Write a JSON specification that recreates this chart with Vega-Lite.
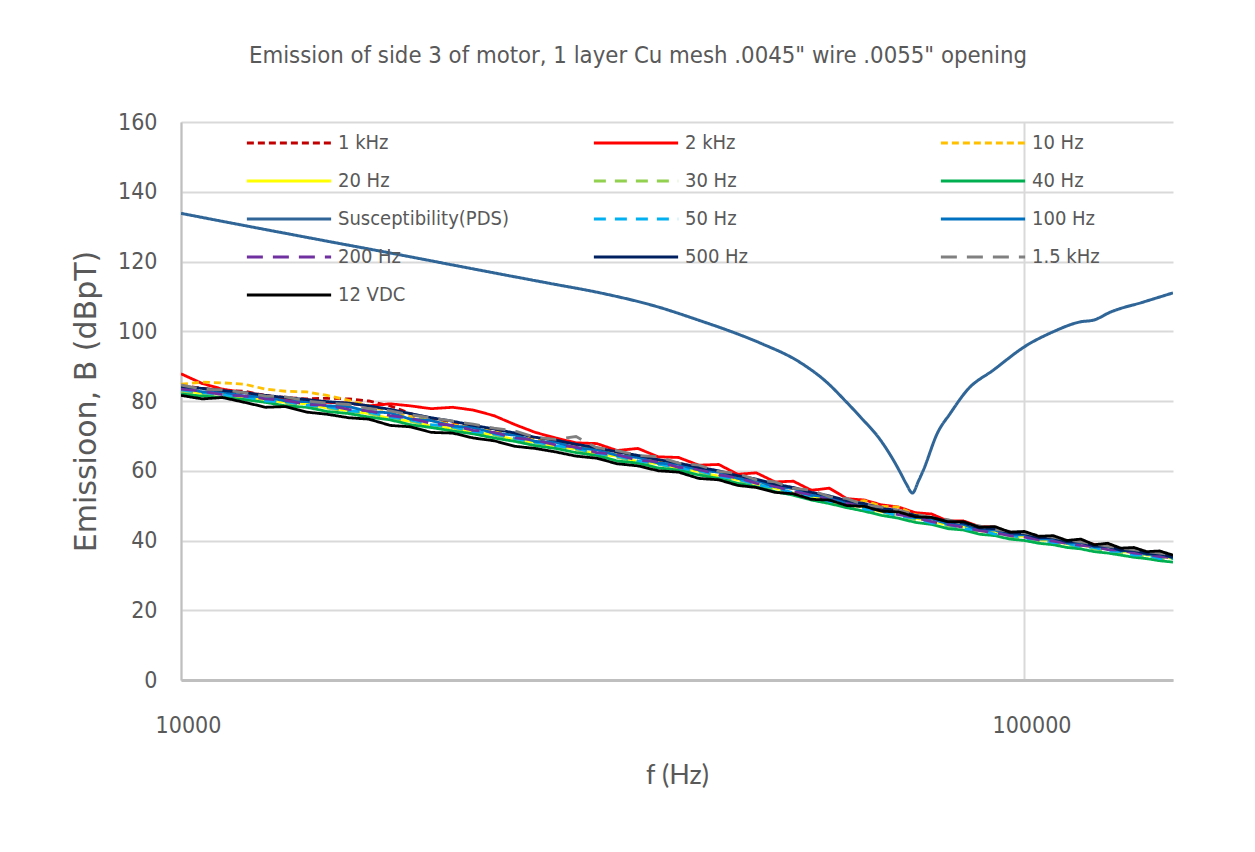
{
"$schema": "https://vega.github.io/schema/vega-lite/v6.json",
"autosize": "none",
"width": 992,
"height": 558,
"padding": {"left": 181, "top": 122, "right": 82, "bottom": 172},
"background": "white",
"config": {"view": {"stroke": null}},
"title": {"text": "Emission of side 3 of motor, 1 layer Cu mesh .0045\" wire .0055\" opening", "font": "Liberation Sans Narrow, DejaVu Sans Condensed, sans-serif", "fontSize": 23.7, "fontWeight": "normal", "color": "#595959", "anchor": "middle", "frame": "group", "offset": 43, "dx": -39},
"datasets": {
"emission": [
{"s":"1 kHz","f":10000,"B":84.5},{"s":"1 kHz","f":10600,"B":83.6},{"s":"1 kHz","f":11200,"B":83.0},{"s":"1 kHz","f":11900,"B":82.8},{"s":"1 kHz","f":12600,"B":81.5},{"s":"1 kHz","f":13300,"B":81.0},{"s":"1 kHz","f":14100,"B":80.6},{"s":"1 kHz","f":14900,"B":80.8},{"s":"1 kHz","f":15800,"B":80.6},{"s":"1 kHz","f":16700,"B":80.0},{"s":"1 kHz","f":17700,"B":78.6},{"s":"1 kHz","f":18700,"B":76.4},{"s":"1 kHz","f":19800,"B":74.8},{"s":"1 kHz","f":21000,"B":73.9},{"s":"1 kHz","f":22200,"B":72.4},{"s":"1 kHz","f":23500,"B":71.6},{"s":"1 kHz","f":24900,"B":70.3},{"s":"1 kHz","f":26300,"B":69.0},{"s":"1 kHz","f":27800,"B":68.4},{"s":"1 kHz","f":29400,"B":67.2},{"s":"1 kHz","f":31100,"B":66.3},{"s":"1 kHz","f":32900,"B":64.9},{"s":"1 kHz","f":34800,"B":64.0},{"s":"1 kHz","f":36800,"B":62.8},{"s":"1 kHz","f":38900,"B":61.9},{"s":"1 kHz","f":41100,"B":60.7},{"s":"1 kHz","f":43400,"B":59.7},{"s":"1 kHz","f":45700,"B":58.3},{"s":"1 kHz","f":48100,"B":57.3},{"s":"1 kHz","f":50600,"B":55.9},{"s":"1 kHz","f":53200,"B":54.9},{"s":"1 kHz","f":55900,"B":53.4},{"s":"1 kHz","f":58700,"B":52.5},{"s":"1 kHz","f":61600,"B":51.1},{"s":"1 kHz","f":64600,"B":50.3},{"s":"1 kHz","f":67700,"B":49.0},{"s":"1 kHz","f":70900,"B":48.3},{"s":"1 kHz","f":74200,"B":46.9},{"s":"1 kHz","f":77600,"B":46.4},{"s":"1 kHz","f":81100,"B":45.2},{"s":"1 kHz","f":84700,"B":44.6},{"s":"1 kHz","f":88400,"B":43.5},{"s":"1 kHz","f":92200,"B":43.1},{"s":"1 kHz","f":96100,"B":42.1},{"s":"1 kHz","f":100000,"B":41.8},{"s":"1 kHz","f":104000,"B":40.9},{"s":"1 kHz","f":108100,"B":40.6},{"s":"1 kHz","f":112300,"B":39.7},{"s":"1 kHz","f":116600,"B":39.4},{"s":"1 kHz","f":121000,"B":38.5},{"s":"1 kHz","f":125500,"B":38.3},{"s":"1 kHz","f":130100,"B":37.4},{"s":"1 kHz","f":134800,"B":37.2},{"s":"1 kHz","f":139600,"B":36.4},{"s":"1 kHz","f":144600,"B":36.1},{"s":"1 kHz","f":150000,"B":35.4},
{"s":"2 kHz","f":10000,"B":87.8},{"s":"2 kHz","f":10600,"B":85.0},{"s":"2 kHz","f":11200,"B":83.4},{"s":"2 kHz","f":11900,"B":82.4},{"s":"2 kHz","f":12600,"B":81.6},{"s":"2 kHz","f":13300,"B":80.6},{"s":"2 kHz","f":14100,"B":80.4},{"s":"2 kHz","f":14900,"B":79.6},{"s":"2 kHz","f":15800,"B":79.4},{"s":"2 kHz","f":16700,"B":78.6},{"s":"2 kHz","f":17700,"B":79.2},{"s":"2 kHz","f":18700,"B":78.6},{"s":"2 kHz","f":19800,"B":77.8},{"s":"2 kHz","f":21000,"B":78.2},{"s":"2 kHz","f":22200,"B":77.4},{"s":"2 kHz","f":23500,"B":75.8},{"s":"2 kHz","f":24900,"B":73.2},{"s":"2 kHz","f":26300,"B":71.0},{"s":"2 kHz","f":27800,"B":69.4},{"s":"2 kHz","f":29400,"B":68.0},{"s":"2 kHz","f":31100,"B":67.8},{"s":"2 kHz","f":32900,"B":65.8},{"s":"2 kHz","f":34800,"B":66.4},{"s":"2 kHz","f":36800,"B":64.0},{"s":"2 kHz","f":38900,"B":63.8},{"s":"2 kHz","f":41100,"B":61.6},{"s":"2 kHz","f":43400,"B":61.8},{"s":"2 kHz","f":45700,"B":59.0},{"s":"2 kHz","f":48100,"B":59.4},{"s":"2 kHz","f":50600,"B":56.8},{"s":"2 kHz","f":53200,"B":57.0},{"s":"2 kHz","f":55900,"B":54.4},{"s":"2 kHz","f":58700,"B":55.0},{"s":"2 kHz","f":61600,"B":52.0},{"s":"2 kHz","f":64600,"B":51.6},{"s":"2 kHz","f":67700,"B":50.2},{"s":"2 kHz","f":70900,"B":49.6},{"s":"2 kHz","f":74200,"B":48.0},{"s":"2 kHz","f":77600,"B":47.6},{"s":"2 kHz","f":81100,"B":45.6},{"s":"2 kHz","f":84700,"B":45.6},{"s":"2 kHz","f":88400,"B":44.0},{"s":"2 kHz","f":92200,"B":43.8},{"s":"2 kHz","f":96100,"B":42.2},{"s":"2 kHz","f":100000,"B":42.4},{"s":"2 kHz","f":104000,"B":41.0},{"s":"2 kHz","f":108100,"B":41.2},{"s":"2 kHz","f":112300,"B":39.8},{"s":"2 kHz","f":116600,"B":40.0},{"s":"2 kHz","f":121000,"B":38.8},{"s":"2 kHz","f":125500,"B":38.8},{"s":"2 kHz","f":130100,"B":37.6},{"s":"2 kHz","f":134800,"B":37.6},{"s":"2 kHz","f":139600,"B":36.6},{"s":"2 kHz","f":144600,"B":36.6},{"s":"2 kHz","f":150000,"B":35.6},
{"s":"10 Hz","f":10000,"B":84.8},{"s":"10 Hz","f":10600,"B":85.4},{"s":"10 Hz","f":11200,"B":85.2},{"s":"10 Hz","f":11900,"B":84.8},{"s":"10 Hz","f":12600,"B":83.4},{"s":"10 Hz","f":13300,"B":82.8},{"s":"10 Hz","f":14100,"B":82.6},{"s":"10 Hz","f":14900,"B":81.6},{"s":"10 Hz","f":15800,"B":80.2},{"s":"10 Hz","f":16700,"B":78.6},{"s":"10 Hz","f":17700,"B":77.0},{"s":"10 Hz","f":18700,"B":75.6},{"s":"10 Hz","f":19800,"B":74.4},{"s":"10 Hz","f":21000,"B":73.2},{"s":"10 Hz","f":22200,"B":72.4},{"s":"10 Hz","f":23500,"B":71.2},{"s":"10 Hz","f":24900,"B":70.2},{"s":"10 Hz","f":26300,"B":68.8},{"s":"10 Hz","f":27800,"B":68.2},{"s":"10 Hz","f":29400,"B":66.8},{"s":"10 Hz","f":31100,"B":66.2},{"s":"10 Hz","f":32900,"B":64.6},{"s":"10 Hz","f":34800,"B":64.0},{"s":"10 Hz","f":36800,"B":62.4},{"s":"10 Hz","f":38900,"B":62.0},{"s":"10 Hz","f":41100,"B":60.4},{"s":"10 Hz","f":43400,"B":59.6},{"s":"10 Hz","f":45700,"B":58.0},{"s":"10 Hz","f":48100,"B":57.2},{"s":"10 Hz","f":50600,"B":55.4},{"s":"10 Hz","f":53200,"B":55.0},{"s":"10 Hz","f":55900,"B":53.2},{"s":"10 Hz","f":58700,"B":52.4},{"s":"10 Hz","f":61600,"B":51.0},{"s":"10 Hz","f":64600,"B":51.4},{"s":"10 Hz","f":67700,"B":49.8},{"s":"10 Hz","f":70900,"B":49.6},{"s":"10 Hz","f":74200,"B":47.4},{"s":"10 Hz","f":77600,"B":46.6},{"s":"10 Hz","f":81100,"B":45.0},{"s":"10 Hz","f":84700,"B":44.8},{"s":"10 Hz","f":88400,"B":43.4},{"s":"10 Hz","f":92200,"B":43.0},{"s":"10 Hz","f":96100,"B":41.8},{"s":"10 Hz","f":100000,"B":41.6},{"s":"10 Hz","f":104000,"B":40.6},{"s":"10 Hz","f":108100,"B":40.8},{"s":"10 Hz","f":112300,"B":39.4},{"s":"10 Hz","f":116600,"B":39.8},{"s":"10 Hz","f":121000,"B":38.2},{"s":"10 Hz","f":125500,"B":38.6},{"s":"10 Hz","f":130100,"B":37.2},{"s":"10 Hz","f":134800,"B":37.4},{"s":"10 Hz","f":139600,"B":36.2},{"s":"10 Hz","f":144600,"B":36.4},{"s":"10 Hz","f":150000,"B":35.0},
{"s":"20 Hz","f":10000,"B":83.0},{"s":"20 Hz","f":10600,"B":82.2},{"s":"20 Hz","f":11200,"B":82.0},{"s":"20 Hz","f":11900,"B":81.0},{"s":"20 Hz","f":12600,"B":80.4},{"s":"20 Hz","f":13300,"B":79.6},{"s":"20 Hz","f":14100,"B":79.2},{"s":"20 Hz","f":14900,"B":78.0},{"s":"20 Hz","f":15800,"B":77.2},{"s":"20 Hz","f":16700,"B":76.4},{"s":"20 Hz","f":17700,"B":75.0},{"s":"20 Hz","f":18700,"B":74.2},{"s":"20 Hz","f":19800,"B":72.8},{"s":"20 Hz","f":21000,"B":72.2},{"s":"20 Hz","f":22200,"B":71.0},{"s":"20 Hz","f":23500,"B":70.4},{"s":"20 Hz","f":24900,"B":68.8},{"s":"20 Hz","f":26300,"B":68.2},{"s":"20 Hz","f":27800,"B":67.0},{"s":"20 Hz","f":29400,"B":66.2},{"s":"20 Hz","f":31100,"B":64.8},{"s":"20 Hz","f":32900,"B":64.2},{"s":"20 Hz","f":34800,"B":62.6},{"s":"20 Hz","f":36800,"B":62.0},{"s":"20 Hz","f":38900,"B":60.6},{"s":"20 Hz","f":41100,"B":59.8},{"s":"20 Hz","f":43400,"B":58.4},{"s":"20 Hz","f":45700,"B":57.4},{"s":"20 Hz","f":48100,"B":56.2},{"s":"20 Hz","f":50600,"B":55.0},{"s":"20 Hz","f":53200,"B":53.6},{"s":"20 Hz","f":55900,"B":52.8},{"s":"20 Hz","f":58700,"B":51.4},{"s":"20 Hz","f":61600,"B":50.2},{"s":"20 Hz","f":64600,"B":49.6},{"s":"20 Hz","f":67700,"B":48.2},{"s":"20 Hz","f":70900,"B":48.4},{"s":"20 Hz","f":74200,"B":46.4},{"s":"20 Hz","f":77600,"B":45.6},{"s":"20 Hz","f":81100,"B":44.4},{"s":"20 Hz","f":84700,"B":44.0},{"s":"20 Hz","f":88400,"B":42.8},{"s":"20 Hz","f":92200,"B":42.4},{"s":"20 Hz","f":96100,"B":41.4},{"s":"20 Hz","f":100000,"B":41.2},{"s":"20 Hz","f":104000,"B":40.2},{"s":"20 Hz","f":108100,"B":40.0},{"s":"20 Hz","f":112300,"B":39.0},{"s":"20 Hz","f":116600,"B":38.8},{"s":"20 Hz","f":121000,"B":37.8},{"s":"20 Hz","f":125500,"B":37.8},{"s":"20 Hz","f":130100,"B":36.8},{"s":"20 Hz","f":134800,"B":36.6},{"s":"20 Hz","f":139600,"B":35.8},{"s":"20 Hz","f":144600,"B":35.6},{"s":"20 Hz","f":150000,"B":34.8},
{"s":"30 Hz","f":10000,"B":82.6},{"s":"30 Hz","f":10600,"B":82.0},{"s":"30 Hz","f":11200,"B":81.6},{"s":"30 Hz","f":11900,"B":80.8},{"s":"30 Hz","f":12600,"B":80.2},{"s":"30 Hz","f":13300,"B":79.4},{"s":"30 Hz","f":14100,"B":78.6},{"s":"30 Hz","f":14900,"B":78.0},{"s":"30 Hz","f":15800,"B":77.0},{"s":"30 Hz","f":16700,"B":76.4},{"s":"30 Hz","f":17700,"B":75.2},{"s":"30 Hz","f":18700,"B":74.2},{"s":"30 Hz","f":19800,"B":73.0},{"s":"30 Hz","f":21000,"B":72.4},{"s":"30 Hz","f":22200,"B":71.2},{"s":"30 Hz","f":23500,"B":70.2},{"s":"30 Hz","f":24900,"B":69.0},{"s":"30 Hz","f":26300,"B":68.0},{"s":"30 Hz","f":27800,"B":67.0},{"s":"30 Hz","f":29400,"B":66.0},{"s":"30 Hz","f":31100,"B":64.8},{"s":"30 Hz","f":32900,"B":63.8},{"s":"30 Hz","f":34800,"B":62.6},{"s":"30 Hz","f":36800,"B":61.8},{"s":"30 Hz","f":38900,"B":60.6},{"s":"30 Hz","f":41100,"B":59.6},{"s":"30 Hz","f":43400,"B":58.2},{"s":"30 Hz","f":45700,"B":57.2},{"s":"30 Hz","f":48100,"B":55.8},{"s":"30 Hz","f":50600,"B":54.8},{"s":"30 Hz","f":53200,"B":53.4},{"s":"30 Hz","f":55900,"B":52.4},{"s":"30 Hz","f":58700,"B":51.0},{"s":"30 Hz","f":61600,"B":50.4},{"s":"30 Hz","f":64600,"B":48.8},{"s":"30 Hz","f":67700,"B":48.0},{"s":"30 Hz","f":70900,"B":47.2},{"s":"30 Hz","f":74200,"B":46.0},{"s":"30 Hz","f":77600,"B":44.8},{"s":"30 Hz","f":81100,"B":44.2},{"s":"30 Hz","f":84700,"B":43.2},{"s":"30 Hz","f":88400,"B":42.6},{"s":"30 Hz","f":92200,"B":41.6},{"s":"30 Hz","f":96100,"B":41.2},{"s":"30 Hz","f":100000,"B":40.4},{"s":"30 Hz","f":104000,"B":40.0},{"s":"30 Hz","f":108100,"B":39.2},{"s":"30 Hz","f":112300,"B":38.8},{"s":"30 Hz","f":116600,"B":38.0},{"s":"30 Hz","f":121000,"B":37.6},{"s":"30 Hz","f":125500,"B":37.0},{"s":"30 Hz","f":130100,"B":36.4},{"s":"30 Hz","f":134800,"B":35.8},{"s":"30 Hz","f":139600,"B":35.4},{"s":"30 Hz","f":144600,"B":34.8},{"s":"30 Hz","f":150000,"B":34.4},
{"s":"40 Hz","f":10000,"B":82.0},{"s":"40 Hz","f":10600,"B":81.4},{"s":"40 Hz","f":11200,"B":81.0},{"s":"40 Hz","f":11900,"B":80.4},{"s":"40 Hz","f":12600,"B":79.6},{"s":"40 Hz","f":13300,"B":78.6},{"s":"40 Hz","f":14100,"B":78.2},{"s":"40 Hz","f":14900,"B":77.0},{"s":"40 Hz","f":15800,"B":76.4},{"s":"40 Hz","f":16700,"B":75.4},{"s":"40 Hz","f":17700,"B":74.6},{"s":"40 Hz","f":18700,"B":73.2},{"s":"40 Hz","f":19800,"B":72.4},{"s":"40 Hz","f":21000,"B":71.4},{"s":"40 Hz","f":22200,"B":70.6},{"s":"40 Hz","f":23500,"B":69.4},{"s":"40 Hz","f":24900,"B":68.4},{"s":"40 Hz","f":26300,"B":67.2},{"s":"40 Hz","f":27800,"B":66.4},{"s":"40 Hz","f":29400,"B":65.2},{"s":"40 Hz","f":31100,"B":64.4},{"s":"40 Hz","f":32900,"B":62.8},{"s":"40 Hz","f":34800,"B":62.2},{"s":"40 Hz","f":36800,"B":60.8},{"s":"40 Hz","f":38900,"B":60.2},{"s":"40 Hz","f":41100,"B":58.8},{"s":"40 Hz","f":43400,"B":57.8},{"s":"40 Hz","f":45700,"B":56.4},{"s":"40 Hz","f":48100,"B":55.4},{"s":"40 Hz","f":50600,"B":54.0},{"s":"40 Hz","f":53200,"B":53.0},{"s":"40 Hz","f":55900,"B":51.6},{"s":"40 Hz","f":58700,"B":50.6},{"s":"40 Hz","f":61600,"B":49.4},{"s":"40 Hz","f":64600,"B":48.4},{"s":"40 Hz","f":67700,"B":47.2},{"s":"40 Hz","f":70900,"B":46.4},{"s":"40 Hz","f":74200,"B":45.2},{"s":"40 Hz","f":77600,"B":44.6},{"s":"40 Hz","f":81100,"B":43.4},{"s":"40 Hz","f":84700,"B":43.0},{"s":"40 Hz","f":88400,"B":41.8},{"s":"40 Hz","f":92200,"B":41.4},{"s":"40 Hz","f":96100,"B":40.4},{"s":"40 Hz","f":100000,"B":40.0},{"s":"40 Hz","f":104000,"B":39.2},{"s":"40 Hz","f":108100,"B":38.8},{"s":"40 Hz","f":112300,"B":38.0},{"s":"40 Hz","f":116600,"B":37.6},{"s":"40 Hz","f":121000,"B":36.8},{"s":"40 Hz","f":125500,"B":36.4},{"s":"40 Hz","f":130100,"B":35.8},{"s":"40 Hz","f":134800,"B":35.2},{"s":"40 Hz","f":139600,"B":34.8},{"s":"40 Hz","f":144600,"B":34.2},{"s":"40 Hz","f":150000,"B":33.8},
{"s":"50 Hz","f":10000,"B":83.2},{"s":"50 Hz","f":10600,"B":82.4},{"s":"50 Hz","f":11200,"B":81.8},{"s":"50 Hz","f":11900,"B":81.2},{"s":"50 Hz","f":12600,"B":80.0},{"s":"50 Hz","f":13300,"B":79.8},{"s":"50 Hz","f":14100,"B":78.8},{"s":"50 Hz","f":14900,"B":78.4},{"s":"50 Hz","f":15800,"B":77.2},{"s":"50 Hz","f":16700,"B":76.8},{"s":"50 Hz","f":17700,"B":75.4},{"s":"50 Hz","f":18700,"B":74.6},{"s":"50 Hz","f":19800,"B":73.2},{"s":"50 Hz","f":21000,"B":72.6},{"s":"50 Hz","f":22200,"B":71.2},{"s":"50 Hz","f":23500,"B":70.6},{"s":"50 Hz","f":24900,"B":69.2},{"s":"50 Hz","f":26300,"B":68.2},{"s":"50 Hz","f":27800,"B":67.2},{"s":"50 Hz","f":29400,"B":66.4},{"s":"50 Hz","f":31100,"B":65.0},{"s":"50 Hz","f":32900,"B":64.2},{"s":"50 Hz","f":34800,"B":62.8},{"s":"50 Hz","f":36800,"B":62.0},{"s":"50 Hz","f":38900,"B":60.8},{"s":"50 Hz","f":41100,"B":60.0},{"s":"50 Hz","f":43400,"B":58.4},{"s":"50 Hz","f":45700,"B":57.6},{"s":"50 Hz","f":48100,"B":56.0},{"s":"50 Hz","f":50600,"B":55.2},{"s":"50 Hz","f":53200,"B":53.6},{"s":"50 Hz","f":55900,"B":52.8},{"s":"50 Hz","f":58700,"B":51.2},{"s":"50 Hz","f":61600,"B":50.4},{"s":"50 Hz","f":64600,"B":49.0},{"s":"50 Hz","f":67700,"B":48.4},{"s":"50 Hz","f":70900,"B":47.0},{"s":"50 Hz","f":74200,"B":46.4},{"s":"50 Hz","f":77600,"B":45.0},{"s":"50 Hz","f":81100,"B":44.6},{"s":"50 Hz","f":84700,"B":43.4},{"s":"50 Hz","f":88400,"B":43.0},{"s":"50 Hz","f":92200,"B":41.8},{"s":"50 Hz","f":96100,"B":41.6},{"s":"50 Hz","f":100000,"B":40.6},{"s":"50 Hz","f":104000,"B":40.4},{"s":"50 Hz","f":108100,"B":39.4},{"s":"50 Hz","f":112300,"B":39.2},{"s":"50 Hz","f":116600,"B":38.2},{"s":"50 Hz","f":121000,"B":38.0},{"s":"50 Hz","f":125500,"B":37.0},{"s":"50 Hz","f":130100,"B":36.8},{"s":"50 Hz","f":134800,"B":35.8},{"s":"50 Hz","f":139600,"B":35.8},{"s":"50 Hz","f":144600,"B":34.8},{"s":"50 Hz","f":150000,"B":34.8},
{"s":"100 Hz","f":10000,"B":84.0},{"s":"100 Hz","f":10600,"B":82.6},{"s":"100 Hz","f":11200,"B":82.6},{"s":"100 Hz","f":11900,"B":81.4},{"s":"100 Hz","f":12600,"B":81.2},{"s":"100 Hz","f":13300,"B":80.0},{"s":"100 Hz","f":14100,"B":79.8},{"s":"100 Hz","f":14900,"B":78.6},{"s":"100 Hz","f":15800,"B":78.4},{"s":"100 Hz","f":16700,"B":77.0},{"s":"100 Hz","f":17700,"B":76.6},{"s":"100 Hz","f":18700,"B":74.8},{"s":"100 Hz","f":19800,"B":74.4},{"s":"100 Hz","f":21000,"B":72.8},{"s":"100 Hz","f":22200,"B":72.4},{"s":"100 Hz","f":23500,"B":70.8},{"s":"100 Hz","f":24900,"B":70.2},{"s":"100 Hz","f":26300,"B":68.4},{"s":"100 Hz","f":27800,"B":68.2},{"s":"100 Hz","f":29400,"B":66.6},{"s":"100 Hz","f":31100,"B":66.0},{"s":"100 Hz","f":32900,"B":64.4},{"s":"100 Hz","f":34800,"B":63.8},{"s":"100 Hz","f":36800,"B":62.2},{"s":"100 Hz","f":38900,"B":61.8},{"s":"100 Hz","f":41100,"B":60.2},{"s":"100 Hz","f":43400,"B":59.6},{"s":"100 Hz","f":45700,"B":57.8},{"s":"100 Hz","f":48100,"B":57.2},{"s":"100 Hz","f":50600,"B":55.4},{"s":"100 Hz","f":53200,"B":55.0},{"s":"100 Hz","f":55900,"B":53.0},{"s":"100 Hz","f":58700,"B":52.4},{"s":"100 Hz","f":61600,"B":50.6},{"s":"100 Hz","f":64600,"B":50.2},{"s":"100 Hz","f":67700,"B":48.6},{"s":"100 Hz","f":70900,"B":48.2},{"s":"100 Hz","f":74200,"B":46.6},{"s":"100 Hz","f":77600,"B":46.2},{"s":"100 Hz","f":81100,"B":44.8},{"s":"100 Hz","f":84700,"B":44.6},{"s":"100 Hz","f":88400,"B":43.0},{"s":"100 Hz","f":92200,"B":43.0},{"s":"100 Hz","f":96100,"B":41.6},{"s":"100 Hz","f":100000,"B":41.6},{"s":"100 Hz","f":104000,"B":40.4},{"s":"100 Hz","f":108100,"B":40.4},{"s":"100 Hz","f":112300,"B":39.2},{"s":"100 Hz","f":116600,"B":39.4},{"s":"100 Hz","f":121000,"B":38.2},{"s":"100 Hz","f":125500,"B":38.2},{"s":"100 Hz","f":130100,"B":37.0},{"s":"100 Hz","f":134800,"B":37.0},{"s":"100 Hz","f":139600,"B":36.0},{"s":"100 Hz","f":144600,"B":36.0},{"s":"100 Hz","f":150000,"B":35.0},
{"s":"200 Hz","f":10000,"B":83.4},{"s":"200 Hz","f":10600,"B":82.8},{"s":"200 Hz","f":11200,"B":81.8},{"s":"200 Hz","f":11900,"B":81.4},{"s":"200 Hz","f":12600,"B":80.6},{"s":"200 Hz","f":13300,"B":80.2},{"s":"200 Hz","f":14100,"B":79.0},{"s":"200 Hz","f":14900,"B":78.8},{"s":"200 Hz","f":15800,"B":77.6},{"s":"200 Hz","f":16700,"B":77.2},{"s":"200 Hz","f":17700,"B":75.8},{"s":"200 Hz","f":18700,"B":75.0},{"s":"200 Hz","f":19800,"B":73.6},{"s":"200 Hz","f":21000,"B":73.0},{"s":"200 Hz","f":22200,"B":71.6},{"s":"200 Hz","f":23500,"B":71.0},{"s":"200 Hz","f":24900,"B":69.4},{"s":"200 Hz","f":26300,"B":68.8},{"s":"200 Hz","f":27800,"B":67.4},{"s":"200 Hz","f":29400,"B":66.8},{"s":"200 Hz","f":31100,"B":65.2},{"s":"200 Hz","f":32900,"B":64.6},{"s":"200 Hz","f":34800,"B":63.0},{"s":"200 Hz","f":36800,"B":62.6},{"s":"200 Hz","f":38900,"B":61.0},{"s":"200 Hz","f":41100,"B":60.4},{"s":"200 Hz","f":43400,"B":58.8},{"s":"200 Hz","f":45700,"B":58.0},{"s":"200 Hz","f":48100,"B":56.4},{"s":"200 Hz","f":50600,"B":55.6},{"s":"200 Hz","f":53200,"B":54.0},{"s":"200 Hz","f":55900,"B":53.2},{"s":"200 Hz","f":58700,"B":51.6},{"s":"200 Hz","f":61600,"B":50.8},{"s":"200 Hz","f":64600,"B":49.4},{"s":"200 Hz","f":67700,"B":48.6},{"s":"200 Hz","f":70900,"B":47.4},{"s":"200 Hz","f":74200,"B":46.6},{"s":"200 Hz","f":77600,"B":45.4},{"s":"200 Hz","f":81100,"B":44.6},{"s":"200 Hz","f":84700,"B":43.8},{"s":"200 Hz","f":88400,"B":42.8},{"s":"200 Hz","f":92200,"B":42.2},{"s":"200 Hz","f":96100,"B":41.4},{"s":"200 Hz","f":100000,"B":41.0},{"s":"200 Hz","f":104000,"B":40.2},{"s":"200 Hz","f":108100,"B":39.8},{"s":"200 Hz","f":112300,"B":39.2},{"s":"200 Hz","f":116600,"B":38.6},{"s":"200 Hz","f":121000,"B":38.2},{"s":"200 Hz","f":125500,"B":37.4},{"s":"200 Hz","f":130100,"B":37.2},{"s":"200 Hz","f":134800,"B":36.4},{"s":"200 Hz","f":139600,"B":36.0},{"s":"200 Hz","f":144600,"B":35.4},{"s":"200 Hz","f":150000,"B":35.0},
{"s":"500 Hz","f":10000,"B":84.2},{"s":"500 Hz","f":10600,"B":83.6},{"s":"500 Hz","f":11200,"B":83.0},{"s":"500 Hz","f":11900,"B":82.4},{"s":"500 Hz","f":12600,"B":81.6},{"s":"500 Hz","f":13300,"B":81.0},{"s":"500 Hz","f":14100,"B":80.4},{"s":"500 Hz","f":14900,"B":79.8},{"s":"500 Hz","f":15800,"B":79.4},{"s":"500 Hz","f":16700,"B":78.6},{"s":"500 Hz","f":17700,"B":77.6},{"s":"500 Hz","f":18700,"B":76.4},{"s":"500 Hz","f":19800,"B":75.2},{"s":"500 Hz","f":21000,"B":74.2},{"s":"500 Hz","f":22200,"B":73.0},{"s":"500 Hz","f":23500,"B":72.0},{"s":"500 Hz","f":24900,"B":70.8},{"s":"500 Hz","f":26300,"B":69.6},{"s":"500 Hz","f":27800,"B":68.8},{"s":"500 Hz","f":29400,"B":67.6},{"s":"500 Hz","f":31100,"B":66.6},{"s":"500 Hz","f":32900,"B":65.4},{"s":"500 Hz","f":34800,"B":64.4},{"s":"500 Hz","f":36800,"B":63.2},{"s":"500 Hz","f":38900,"B":62.2},{"s":"500 Hz","f":41100,"B":61.0},{"s":"500 Hz","f":43400,"B":60.0},{"s":"500 Hz","f":45700,"B":58.6},{"s":"500 Hz","f":48100,"B":57.6},{"s":"500 Hz","f":50600,"B":56.2},{"s":"500 Hz","f":53200,"B":55.2},{"s":"500 Hz","f":55900,"B":53.8},{"s":"500 Hz","f":58700,"B":52.8},{"s":"500 Hz","f":61600,"B":51.4},{"s":"500 Hz","f":64600,"B":50.6},{"s":"500 Hz","f":67700,"B":49.2},{"s":"500 Hz","f":70900,"B":48.6},{"s":"500 Hz","f":74200,"B":47.2},{"s":"500 Hz","f":77600,"B":46.6},{"s":"500 Hz","f":81100,"B":45.4},{"s":"500 Hz","f":84700,"B":45.0},{"s":"500 Hz","f":88400,"B":43.6},{"s":"500 Hz","f":92200,"B":43.4},{"s":"500 Hz","f":96100,"B":42.2},{"s":"500 Hz","f":100000,"B":42.0},{"s":"500 Hz","f":104000,"B":40.8},{"s":"500 Hz","f":108100,"B":40.8},{"s":"500 Hz","f":112300,"B":39.6},{"s":"500 Hz","f":116600,"B":39.6},{"s":"500 Hz","f":121000,"B":38.4},{"s":"500 Hz","f":125500,"B":38.4},{"s":"500 Hz","f":130100,"B":37.2},{"s":"500 Hz","f":134800,"B":37.2},{"s":"500 Hz","f":139600,"B":36.2},{"s":"500 Hz","f":144600,"B":36.2},{"s":"500 Hz","f":150000,"B":35.2},
{"s":"1.5 kHz","f":10000,"B":84.6},{"s":"1.5 kHz","f":10600,"B":83.4},{"s":"1.5 kHz","f":11200,"B":83.2},{"s":"1.5 kHz","f":11900,"B":82.4},{"s":"1.5 kHz","f":12600,"B":81.4},{"s":"1.5 kHz","f":13300,"B":81.2},{"s":"1.5 kHz","f":14100,"B":80.0},{"s":"1.5 kHz","f":14900,"B":79.4},{"s":"1.5 kHz","f":15800,"B":79.0},{"s":"1.5 kHz","f":16700,"B":77.8},{"s":"1.5 kHz","f":17700,"B":77.2},{"s":"1.5 kHz","f":18700,"B":76.0},{"s":"1.5 kHz","f":19800,"B":75.2},{"s":"1.5 kHz","f":21000,"B":74.2},{"s":"1.5 kHz","f":22200,"B":73.4},{"s":"1.5 kHz","f":23500,"B":72.2},{"s":"1.5 kHz","f":24900,"B":71.4},{"s":"1.5 kHz","f":26300,"B":69.6},{"s":"1.5 kHz","f":27800,"B":69.0},{"s":"1.5 kHz","f":29400,"B":69.8},{"s":"1.5 kHz","f":31100,"B":66.6},{"s":"1.5 kHz","f":32900,"B":65.8},{"s":"1.5 kHz","f":34800,"B":64.4},{"s":"1.5 kHz","f":36800,"B":64.0},{"s":"1.5 kHz","f":38900,"B":62.2},{"s":"1.5 kHz","f":41100,"B":61.6},{"s":"1.5 kHz","f":43400,"B":59.8},{"s":"1.5 kHz","f":45700,"B":59.2},{"s":"1.5 kHz","f":48100,"B":57.4},{"s":"1.5 kHz","f":50600,"B":56.8},{"s":"1.5 kHz","f":53200,"B":55.0},{"s":"1.5 kHz","f":55900,"B":54.4},{"s":"1.5 kHz","f":58700,"B":52.6},{"s":"1.5 kHz","f":61600,"B":52.0},{"s":"1.5 kHz","f":64600,"B":50.2},{"s":"1.5 kHz","f":67700,"B":49.6},{"s":"1.5 kHz","f":70900,"B":48.6},{"s":"1.5 kHz","f":74200,"B":47.6},{"s":"1.5 kHz","f":77600,"B":46.6},{"s":"1.5 kHz","f":81100,"B":46.0},{"s":"1.5 kHz","f":84700,"B":44.8},{"s":"1.5 kHz","f":88400,"B":44.2},{"s":"1.5 kHz","f":92200,"B":43.2},{"s":"1.5 kHz","f":96100,"B":42.6},{"s":"1.5 kHz","f":100000,"B":42.2},{"s":"1.5 kHz","f":104000,"B":41.4},{"s":"1.5 kHz","f":108100,"B":41.0},{"s":"1.5 kHz","f":112300,"B":40.2},{"s":"1.5 kHz","f":116600,"B":39.6},{"s":"1.5 kHz","f":121000,"B":39.0},{"s":"1.5 kHz","f":125500,"B":38.4},{"s":"1.5 kHz","f":130100,"B":37.8},{"s":"1.5 kHz","f":134800,"B":37.4},{"s":"1.5 kHz","f":139600,"B":36.8},{"s":"1.5 kHz","f":144600,"B":36.4},{"s":"1.5 kHz","f":150000,"B":35.8},
{"s":"12 VDC","f":10000,"B":81.6},{"s":"12 VDC","f":10600,"B":80.6},{"s":"12 VDC","f":11200,"B":81.0},{"s":"12 VDC","f":11900,"B":79.6},{"s":"12 VDC","f":12600,"B":78.2},{"s":"12 VDC","f":13300,"B":78.4},{"s":"12 VDC","f":14100,"B":76.8},{"s":"12 VDC","f":14900,"B":76.2},{"s":"12 VDC","f":15800,"B":75.2},{"s":"12 VDC","f":16700,"B":74.8},{"s":"12 VDC","f":17700,"B":73.0},{"s":"12 VDC","f":18700,"B":72.6},{"s":"12 VDC","f":19800,"B":71.0},{"s":"12 VDC","f":21000,"B":70.8},{"s":"12 VDC","f":22200,"B":69.4},{"s":"12 VDC","f":23500,"B":68.6},{"s":"12 VDC","f":24900,"B":67.0},{"s":"12 VDC","f":26300,"B":66.4},{"s":"12 VDC","f":27800,"B":65.4},{"s":"12 VDC","f":29400,"B":64.2},{"s":"12 VDC","f":31100,"B":63.6},{"s":"12 VDC","f":32900,"B":62.0},{"s":"12 VDC","f":34800,"B":61.4},{"s":"12 VDC","f":36800,"B":60.0},{"s":"12 VDC","f":38900,"B":59.6},{"s":"12 VDC","f":41100,"B":57.8},{"s":"12 VDC","f":43400,"B":57.4},{"s":"12 VDC","f":45700,"B":55.8},{"s":"12 VDC","f":48100,"B":55.2},{"s":"12 VDC","f":50600,"B":53.8},{"s":"12 VDC","f":53200,"B":53.4},{"s":"12 VDC","f":55900,"B":51.8},{"s":"12 VDC","f":58700,"B":51.6},{"s":"12 VDC","f":61600,"B":50.0},{"s":"12 VDC","f":64600,"B":49.8},{"s":"12 VDC","f":67700,"B":48.4},{"s":"12 VDC","f":70900,"B":48.2},{"s":"12 VDC","f":74200,"B":46.8},{"s":"12 VDC","f":77600,"B":46.6},{"s":"12 VDC","f":81100,"B":45.4},{"s":"12 VDC","f":84700,"B":45.4},{"s":"12 VDC","f":88400,"B":43.8},{"s":"12 VDC","f":92200,"B":44.0},{"s":"12 VDC","f":96100,"B":42.4},{"s":"12 VDC","f":100000,"B":42.6},{"s":"12 VDC","f":104000,"B":41.2},{"s":"12 VDC","f":108100,"B":41.4},{"s":"12 VDC","f":112300,"B":40.0},{"s":"12 VDC","f":116600,"B":40.4},{"s":"12 VDC","f":121000,"B":38.8},{"s":"12 VDC","f":125500,"B":39.2},{"s":"12 VDC","f":130100,"B":37.8},{"s":"12 VDC","f":134800,"B":38.0},{"s":"12 VDC","f":139600,"B":36.8},{"s":"12 VDC","f":144600,"B":37.0},{"s":"12 VDC","f":150000,"B":35.8}
],
"pds": [
{"s":"Susceptibility(PDS)","f":10000,"B":133.8},{"s":"Susceptibility(PDS)","f":12075,"B":130.0},{"s":"Susceptibility(PDS)","f":14620,"B":126.2},{"s":"Susceptibility(PDS)","f":18190,"B":121.9},{"s":"Susceptibility(PDS)","f":22620,"B":117.5},{"s":"Susceptibility(PDS)","f":27400,"B":113.7},{"s":"Susceptibility(PDS)","f":31410,"B":111.0},{"s":"Susceptibility(PDS)","f":36500,"B":107.2},{"s":"Susceptibility(PDS)","f":41280,"B":103.0},{"s":"Susceptibility(PDS)","f":44800,"B":100.0},{"s":"Susceptibility(PDS)","f":48630,"B":96.6},{"s":"Susceptibility(PDS)","f":54250,"B":91.0},{"s":"Susceptibility(PDS)","f":58400,"B":85.2},{"s":"Susceptibility(PDS)","f":61340,"B":80.0},{"s":"Susceptibility(PDS)","f":63910,"B":75.4},{"s":"Susceptibility(PDS)","f":67490,"B":68.8},{"s":"Susceptibility(PDS)","f":70320,"B":62.0},{"s":"Susceptibility(PDS)","f":71280,"B":59.4},{"s":"Susceptibility(PDS)","f":72440,"B":56.2},{"s":"Susceptibility(PDS)","f":73650,"B":53.6},{"s":"Susceptibility(PDS)","f":74860,"B":57.0},{"s":"Susceptibility(PDS)","f":75890,"B":60.2},{"s":"Susceptibility(PDS)","f":78850,"B":70.8},{"s":"Susceptibility(PDS)","f":81690,"B":76.5},{"s":"Susceptibility(PDS)","f":85570,"B":83.2},{"s":"Susceptibility(PDS)","f":91900,"B":88.9},{"s":"Susceptibility(PDS)","f":100820,"B":96.1},{"s":"Susceptibility(PDS)","f":107360,"B":99.5},{"s":"Susceptibility(PDS)","f":116540,"B":102.7},{"s":"Susceptibility(PDS)","f":120750,"B":103.2},{"s":"Susceptibility(PDS)","f":126480,"B":105.5},{"s":"Susceptibility(PDS)","f":138430,"B":108.4},{"s":"Susceptibility(PDS)","f":150000,"B":111.0}
]
},
"encoding": {
"x": {"field": "f", "type": "quantitative", "scale": {"type": "log", "domain": [10000, 150000], "nice": false},
 "axis": {"values": [10000, 100000], "format": "d", "grid": true, "gridColor": "#D9D9D9", "gridWidth": 2, "domainColor": "#BFBFBF", "domainWidth": 3, "ticks": false, "labelFlush": false, "labelOffset": 7, "labelPadding": 34, "labelFont": "Liberation Sans Narrow, DejaVu Sans Condensed, sans-serif", "labelFontSize": 23, "labelColor": "#595959", "title": "f (Hz)", "titleFont": "Lato, sans-serif", "titleFontSize": 27, "titleFontWeight": "normal", "titleColor": "#595959", "titleY": 95, "titleBaseline": "middle"}},
"y": {"field": "B", "type": "quantitative", "scale": {"domain": [0, 160], "nice": false},
 "axis": {"values": [0, 20, 40, 60, 80, 100, 120, 140, 160], "grid": true, "gridColor": "#D9D9D9", "gridWidth": 2, "domainColor": "#BFBFBF", "domainWidth": 2, "ticks": false, "labelPadding": 24, "labelFont": "Liberation Sans Narrow, DejaVu Sans Condensed, sans-serif", "labelFontSize": 23, "labelColor": "#595959", "title": "Emissioon, B (dBpT)", "titleFont": "DejaVu Sans, sans-serif", "titleFontSize": 30, "titleFontWeight": "normal", "titleColor": "#595959", "titleX": -95, "titleY": 279, "titleAlign": "center", "titleBaseline": "middle"}},
"color": {"field": "s", "type": "nominal",
 "scale": {"domain": ["1 kHz","2 kHz","10 Hz","20 Hz","30 Hz","40 Hz","Susceptibility(PDS)","50 Hz","100 Hz","200 Hz","500 Hz","1.5 kHz","12 VDC"],
  "range": ["#C00000","#FF0000","#FFC000","#FFFF00","#92D050","#00B050","#2F6597","#00B0F0","#0070C0","#7030A0","#002060","#808080","#000000"]},
 "legend": {"title": null, "orient": "none", "direction": "horizontal", "legendX": 64, "legendY": 11, "columns": 3, "gridAlign": "all", "symbolType": "stroke", "symbolSize": 7100, "symbolStrokeWidth": 3, "clipHeight": 20, "rowPadding": 18, "columnPadding": 83, "labelFont": "Liberation Sans Narrow, DejaVu Sans Condensed, sans-serif", "labelFontSize": 20, "labelColor": "#595959", "labelLimit": 400, "labelOffset": 5}},
"strokeDash": {"field": "s", "type": "nominal",
 "scale": {"domain": ["1 kHz","2 kHz","10 Hz","20 Hz","30 Hz","40 Hz","Susceptibility(PDS)","50 Hz","100 Hz","200 Hz","500 Hz","1.5 kHz","12 VDC"],
  "range": [[7,4],[1,0],[7,4],[1,0],[12,9],[1,0],[1,0],[12,9],[1,0],[16,10],[1,0],[16,10],[1,0]]},
 "legend": {"title": null, "orient": "none", "direction": "horizontal", "legendX": 64, "legendY": 11, "columns": 3, "gridAlign": "all", "symbolType": "stroke", "symbolSize": 7100, "symbolStrokeWidth": 3, "clipHeight": 20, "rowPadding": 18, "columnPadding": 83, "labelFont": "Liberation Sans Narrow, DejaVu Sans Condensed, sans-serif", "labelFontSize": 20, "labelColor": "#595959", "labelLimit": 400, "labelOffset": 5}}
},
"layer": [
 {"data": {"name": "emission"}, "mark": {"type": "line", "strokeWidth": 2.8, "clip": true}},
 {"data": {"name": "pds"}, "mark": {"type": "line", "strokeWidth": 3, "interpolate": "monotone", "clip": true}}
]
}
